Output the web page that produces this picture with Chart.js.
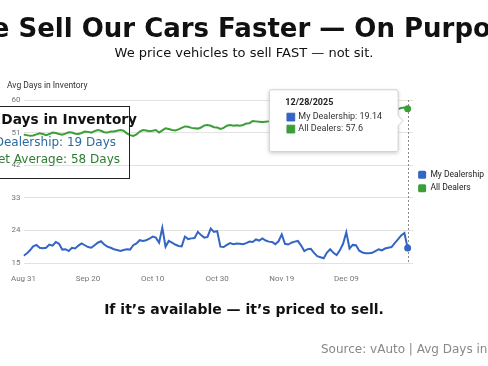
<!DOCTYPE html>
<html>
<head>
<meta charset="utf-8">
<script src="https://cdn.jsdelivr.net/npm/chart.js@4.4.1/dist/chart.umd.min.js"></script>
<style>
    html, body { margin: 0; padding: 0; background: #fff; }
    body { width: 488px; height: 366px; overflow: hidden; position: relative; font-family: 'DejaVu Sans', sans-serif; }
    #chartBox { position: absolute; left: 0; top: 0; width: 494px; height: 366px; }
    .txt { position: absolute; white-space: nowrap; line-height: 1; }
    #title { left: -150px; width: 788px; text-align: center; top: 14.5px; font-size: 26px; font-weight: bold; color: #111; }
    #subtitle { left: 0; width: 488px; text-align: center; top: 45.7px; font-size: 13px; color: #111; }
    #yTitle { left: 7px; top: 80px; font: 8.5px Roboto, sans-serif; color: #333; }
    #callout { position: absolute; left: -3px; top: 106px; width: 131px; height: 71px; border: 1.5px solid #222; }
    #call1 { right: 351px; top: 113.4px; font-size: 13.7px; font-weight: bold; color: #111; }
    #call2 { right: 372px; top: 135.5px; font-size: 12px; color: #2f6a9e; }
    #call3 { right: 368px; top: 153.2px; font-size: 12px; color: #2e7d32; }
    #footer { left: 0; width: 488px; text-align: center; top: 301.7px; font-size: 14px; font-weight: bold; color: #111; }
    #source { left: 321px; top: 343.3px; font-size: 12px; color: #888; }
</style>
</head>
<body>
<div id="chartBox"><canvas id="daysChart"></canvas></div>
<div class="txt" id="title">We Sell Our Cars Faster — On Purpose</div>
<div class="txt" id="subtitle">We price vehicles to sell FAST — not sit.</div>
<div class="txt" id="yTitle">Avg Days in Inventory</div>
<div id="callout"></div>
<div class="txt" id="call1">Avg Days in Inventory</div>
<div class="txt" id="call2">My Dealership: 19 Days</div>
<div class="txt" id="call3">Market Average: 58 Days</div>
<div class="txt" id="footer">If it’s available — it’s priced to sell.</div>
<div class="txt" id="source">Source: vAuto | Avg Days in Inventory</div>

<script>
// ---- data (daily, Aug 31 2025 .. Dec 28 2025) ----
var startDate = [2025, 7, 31];
var seriesNames = ['My Dealership', 'All Dealers'];
var dealershipDays = [
    17.0, 17.6, 18.5, 19.6, 20.0, 19.2, 19.1, 19.2, 20.1, 19.8,
    20.8, 20.3, 18.7, 18.8, 18.3, 19.2, 19.0, 19.8, 20.4, 19.9,
    19.4, 19.2, 19.9, 20.6, 21.0, 20.1, 19.5, 19.2, 18.8, 18.6,
    18.3, 18.6, 18.8, 18.7, 19.9, 20.4, 21.3, 21.1, 21.3, 21.7,
    22.3, 22.0, 20.6, 24.7, 19.5, 21.1, 20.6, 20.1, 19.7, 19.6,
    22.3, 21.6, 21.8, 21.9, 23.6, 22.7, 22.0, 22.2, 24.5, 23.6,
    23.8, 19.5, 19.4, 20.0, 20.5, 20.2, 20.4, 20.3, 20.2, 20.5,
    20.9, 20.8, 21.5, 21.2, 21.8, 21.2, 20.9, 20.8, 20.2, 21.0,
    22.9, 20.3, 20.1, 20.6, 20.9, 21.1, 19.8, 18.3, 18.8, 18.9,
    17.8, 16.9, 16.6, 16.3, 17.9, 18.8, 17.8, 17.2, 18.5, 20.3,
    23.5, 19.0, 20.0, 19.9, 18.4, 17.9, 17.7, 17.7, 17.8, 18.3,
    18.8, 18.5, 19.0, 19.2, 19.4, 20.5, 21.5, 22.6, 23.3, 19.14
];
var allDealersDays = [
    50.5, 50.3, 50.1, 50.2, 50.5, 50.8, 50.6, 50.3, 50.6, 51.0,
    50.9, 50.6, 50.4, 50.7, 51.1, 51.0, 50.7, 50.6, 50.9, 51.3,
    51.2, 51.0, 51.4, 51.7, 51.5, 51.1, 51.0, 51.3, 51.3, 51.5,
    51.7, 51.5, 50.8, 50.3, 50.1, 50.5, 51.3, 51.7, 51.6, 51.4,
    51.5, 51.7, 51.0, 51.6, 52.2, 52.0, 51.7, 51.6, 51.9, 52.3,
    52.7, 52.6, 52.3, 52.2, 52.1, 52.4, 53.0, 53.1, 52.9, 52.5,
    52.4, 52.0, 52.3, 52.9, 53.1, 52.9, 53.0, 52.9, 53.1, 53.5,
    53.6, 54.2, 54.1, 54.0, 53.9, 54.0, 54.1, 54.2, 54.4, 54.3,
    54.6, 54.8, 54.6, 54.7, 55.0, 55.2, 55.0, 55.1, 55.4, 55.5,
    55.3, 55.4, 55.7, 55.9, 55.8, 55.8, 56.1, 56.2, 56.0, 56.1,
    56.4, 56.6, 56.5, 56.5, 56.8, 56.9, 56.7, 56.8, 57.0, 57.1,
    56.9, 57.0, 57.2, 57.3, 57.1, 57.0, 57.5, 57.8, 57.9, 57.6
];
var xTickIndex = [0, 20, 40, 60, 80, 100];
var xTickLabels = ['Aug 31', 'Sep 20', 'Oct 10', 'Oct 30', 'Nov 19', 'Dec 09'];
var yTicks = [15, 24, 33, 42, 51, 60];

var blue = '#3465c4';
var green = '#3b9f38';

// date labels for the tooltip title
var dates = [];
for (var i = 0; i < dealershipDays.length; i++) {
    var d = new Date(startDate[0], startDate[1], startDate[2] + i);
    dates.push(String(d.getMonth() + 1).padStart(2, '0') + '/' + String(d.getDate()).padStart(2, '0') + '/' + d.getFullYear());
}
var last = dealershipDays.length - 1;

function toPoints(arr) {
    return arr.map(function (v, i) { return { x: i, y: v }; });
}

// tooltip sits a bit below the top point, like the screenshot
Chart.Tooltip.positioners.besideLast = function (items) {
    if (!items.length) return false;
    var x = items[0].element.x;
    var y = Math.min.apply(null, items.map(function (it) { return it.element.y; }));
    return { x: x, y: y + 12 };
};

var hoverLine = {
    id: 'hoverLine',
    beforeDatasetsDraw: function (chart) {
        var ctx = chart.ctx, area = chart.chartArea;
        var x = chart.scales.x.getPixelForValue(last);
        ctx.save();
        ctx.strokeStyle = '#8a8a8a';
        ctx.lineWidth = 1;
        ctx.setLineDash([2, 2]);
        ctx.beginPath();
        ctx.moveTo(Math.round(x) + 0.5, area.top);
        ctx.lineTo(Math.round(x) + 0.5, area.bottom);
        ctx.stroke();
        ctx.restore();
    }
};

var tooltipShadow = {
    id: 'tooltipShadow',
    beforeTooltipDraw: function (chart, args) {
        var t = args.tooltip;
        if (!t.opacity) return;
        var ctx = chart.ctx;
        ctx.save();
        ctx.shadowColor = 'rgba(0,0,0,0.22)';
        ctx.shadowBlur = 4;
        ctx.shadowOffsetY = 1;
        ctx.fillStyle = '#fff';
        ctx.fillRect(t.x, t.y, t.width, t.height);
        ctx.restore();
    }
};

var ctx = document.getElementById('daysChart').getContext('2d');
var chart = new Chart(ctx, {
    type: 'line',
    data: {
        datasets: [{
            label: seriesNames[0],
            data: toPoints(dealershipDays),
            borderColor: blue,
            backgroundColor: blue,
            pointBackgroundColor: blue,
            pointBorderColor: blue,
            borderWidth: 2,
            tension: 0,
            pointRadius: function (c) { return c.dataIndex === last ? 2.5 : 0; },
            pointHoverRadius: function (c) { return c.dataIndex === last ? 2.5 : 0; }
        }, {
            label: seriesNames[1],
            data: toPoints(allDealersDays),
            borderColor: green,
            backgroundColor: green,
            pointBackgroundColor: green,
            pointBorderColor: green,
            borderWidth: 2,
            tension: 0,
            pointRadius: function (c) { return c.dataIndex === last ? 2.5 : 0; },
            pointHoverRadius: function (c) { return c.dataIndex === last ? 2.5 : 0; }
        }]
    },
    options: {
        responsive: true,
        maintainAspectRatio: false,
        animation: false,
        events: [],
        layout: { padding: { top: 100, bottom: 83, left: 0, right: 0 } },
        plugins: {
            legend: {
                position: 'right',
                fullSize: false,
                labels: {
                    boxWidth: 8,
                    boxHeight: 8,
                    padding: 5,
                    color: '#222',
                    font: { family: 'Roboto', size: 8.5 },
                    useBorderRadius: true,
                    borderRadius: 1.5,
                    generateLabels: function (c) {
                        return Chart.defaults.plugins.legend.labels.generateLabels(c).map(function (l) {
                            l.lineWidth = 0;
                            return l;
                        });
                    }
                }
            },
            tooltip: {
                position: 'besideLast',
                xAlign: 'right',
                yAlign: 'center',
                backgroundColor: '#fff',
                borderColor: '#d0d0d0',
                borderWidth: 1,
                cornerRadius: 2,
                caretSize: 5,
                caretPadding: 4.5,
                titleColor: '#222',
                bodyColor: '#333',
                titleFont: { family: 'Roboto', size: 9, weight: 'bold', lineHeight: 1.2 },
                bodyFont: { family: 'Roboto', size: 9, lineHeight: 1.2 },
                titleMarginBottom: 3,
                bodySpacing: 1,
                padding: { top: 8, right: 16, bottom: 17, left: 16 },
                usePointStyle: true,
                boxWidth: 11,
                boxHeight: 11,
                boxPadding: 0,
                multiKeyBackground: '#fff',
                callbacks: {
                    title: function (items) { return dates[items[0].dataIndex]; },
                    labelPointStyle: function () {
                        return { pointStyle: 'rect', rotation: 0 };
                    },
                    labelColor: function (item) {
                        var c = item.dataset.borderColor;
                        return { borderColor: c, backgroundColor: c };
                    }
                }
            }
        },
        scales: {
            x: {
                type: 'linear',
                min: 0,
                max: 120.7,
                grid: { display: false, drawTicks: false },
                border: { display: false },
                afterFit: function (s) { s.height = 20; },
                ticks: {
                    stepSize: 20,
                    autoSkip: false,
                    maxRotation: 0,
                    padding: 11,
                    color: '#757575',
                    font: { family: 'Roboto', size: 8 },
                    callback: function (v) {
                        var k = xTickIndex.indexOf(v);
                        return k < 0 ? null : xTickLabels[k];
                    }
                }
            },
            y: {
                min: yTicks[0],
                max: yTicks[yTicks.length - 1],
                grid: { color: '#e2e2e2', drawTicks: false },
                border: { display: false },
                afterFit: function (s) { s.width = 22; },
                afterBuildTicks: function (s) {
                    s.ticks = yTicks.map(function (v) { return { value: v }; });
                },
                ticks: {
                    padding: 3,
                    color: '#757575',
                    font: { family: 'Roboto', size: 8 }
                }
            }
        }
    },
    plugins: [hoverLine, tooltipShadow]
});

chart.tooltip.setActiveElements([
    { datasetIndex: 0, index: last },
    { datasetIndex: 1, index: last }
], { x: 0, y: 0 });
chart.update();
</script>
</body>
</html>
